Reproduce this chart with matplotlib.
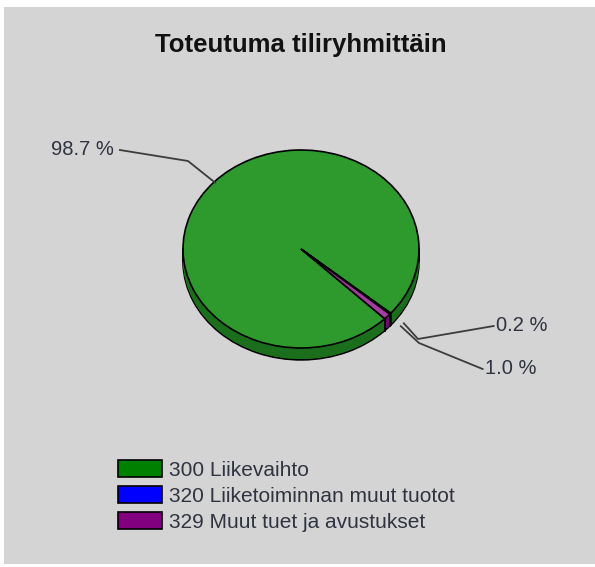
import numpy as np
import matplotlib.pyplot as plt
from matplotlib.patches import Patch, Rectangle

# account groups and their share of the total (%)
labels = ["300 Liikevaihto", "320 Liiketoiminnan muut tuotot", "329 Muut tuet ja avustukset"]
shares = [98.7, 0.2, 1.0]

top_colors = ["#2e9a2e", "#1f3cff", "#a43ca4"]
side_colors = ["#1b6e1b", "#0000a8", "#6e0a6e"]
legend_colors = ["#008000", "#0000ff", "#800080"]

W, H = 595, 567
cx, cy = 301, 249          # pie centre in pixels
rx, ry = 118, 99           # pixels per unit radius, x and y
depth = 0.12               # thickness of the pie side in y units
start = -44.8

fig = plt.figure(figsize=(W / 100, H / 100), dpi=100, facecolor="white")
fig.patches.append(Rectangle((4 / W, 3 / H), 1 - 4 / W, 1 - 10 / H, transform=fig.transFigure,
                             facecolor="#d4d4d4", edgecolor="none", zorder=-5))

ax = fig.add_axes([0, 0, 1, 1])
ax.set_facecolor("none")
ax.set_zorder(2)

# side of the pie: stacked copies shifted downwards
steps = np.linspace(depth, 0.005, 14)
for i, d in enumerate(steps):
    ax.pie(shares, colors=side_colors, startangle=start, counterclock=False,
           center=(0, -d), radius=1,
           wedgeprops=dict(edgecolor="black" if i == 0 else "none", linewidth=1.2))

# vertical edges on the front half
fracs = np.array(shares) / sum(shares)
bounds = start - 360 * np.concatenate([[0], np.cumsum(fracs)])
for a in list(bounds) + [0, 180]:
    t = np.deg2rad(a)
    if np.sin(t) <= 0.001:
        ax.plot([np.cos(t), np.cos(t)], [np.sin(t), np.sin(t) - depth], color="black", lw=1.1, zorder=5)

# top face
wedges, _ = ax.pie(shares, colors=top_colors, startangle=start, counterclock=False,
                   center=(0, 0), radius=1,
                   wedgeprops=dict(edgecolor="black", linewidth=1.2))

ax.set_aspect("auto")
ax.set_xlim(-cx / rx, (W - cx) / rx)
ax.set_ylim(-(H - cy) / ry, cy / ry)
ax.axis("off")


def px(x, y):
    # pixel position -> data coordinates of the pie axes
    return (x - cx) / rx, (cy - y) / ry


# percentage labels with leader lines
mids = bounds[:-1] - 180 * fracs
elbows = [px(188, 161), px(418, 339), px(419, 343)]
texts = [(px(114, 150), "right"), (px(496, 326), "left"), (px(485, 369), "left")]
for k, (m, v) in enumerate(zip(mids, shares)):
    t = np.deg2rad(m)
    if np.sin(t) < 0:
        ax_pt = (1.02 * np.cos(t) + 0.1, 1.02 * np.sin(t) - depth * 0.7)
    else:
        ax_pt = (np.cos(t) * 0.99, np.sin(t) * 0.99)
    (tx, ty), ha = texts[k]
    ex, ey = elbows[k]
    lx = tx + (0.05 if ha == "right" else -0.02)
    ax.plot([ax_pt[0], ex, lx], [ax_pt[1], ey, ty], color="#3c3c3c", lw=1.3,
            zorder=6, clip_on=False)
    ax.text(tx, ty, f"{v:.1f} %", ha=ha, va="center", fontsize=14.5,
            family="Liberation Sans", color="#2f3440")

fig.text(cx / W, 1 - 45 / H, "Toteutuma tiliryhmittäin", ha="center", va="center",
         fontsize=18.5, fontweight="bold", family="Liberation Sans", color="#111111")

handles = [Patch(facecolor=c, edgecolor="black", linewidth=1.2) for c in legend_colors]
fig.legend(handles, labels, loc="upper left", bbox_to_anchor=(118 / W, 1 - 460 / H),
           frameon=False, prop=dict(family="Liberation Sans", size=15),
           handlelength=2.1, handleheight=0.9, handletextpad=0.35,
           labelspacing=0.3, borderpad=0, borderaxespad=0, labelcolor="#2f3440")

fig.savefig("out.png", dpi=100)
